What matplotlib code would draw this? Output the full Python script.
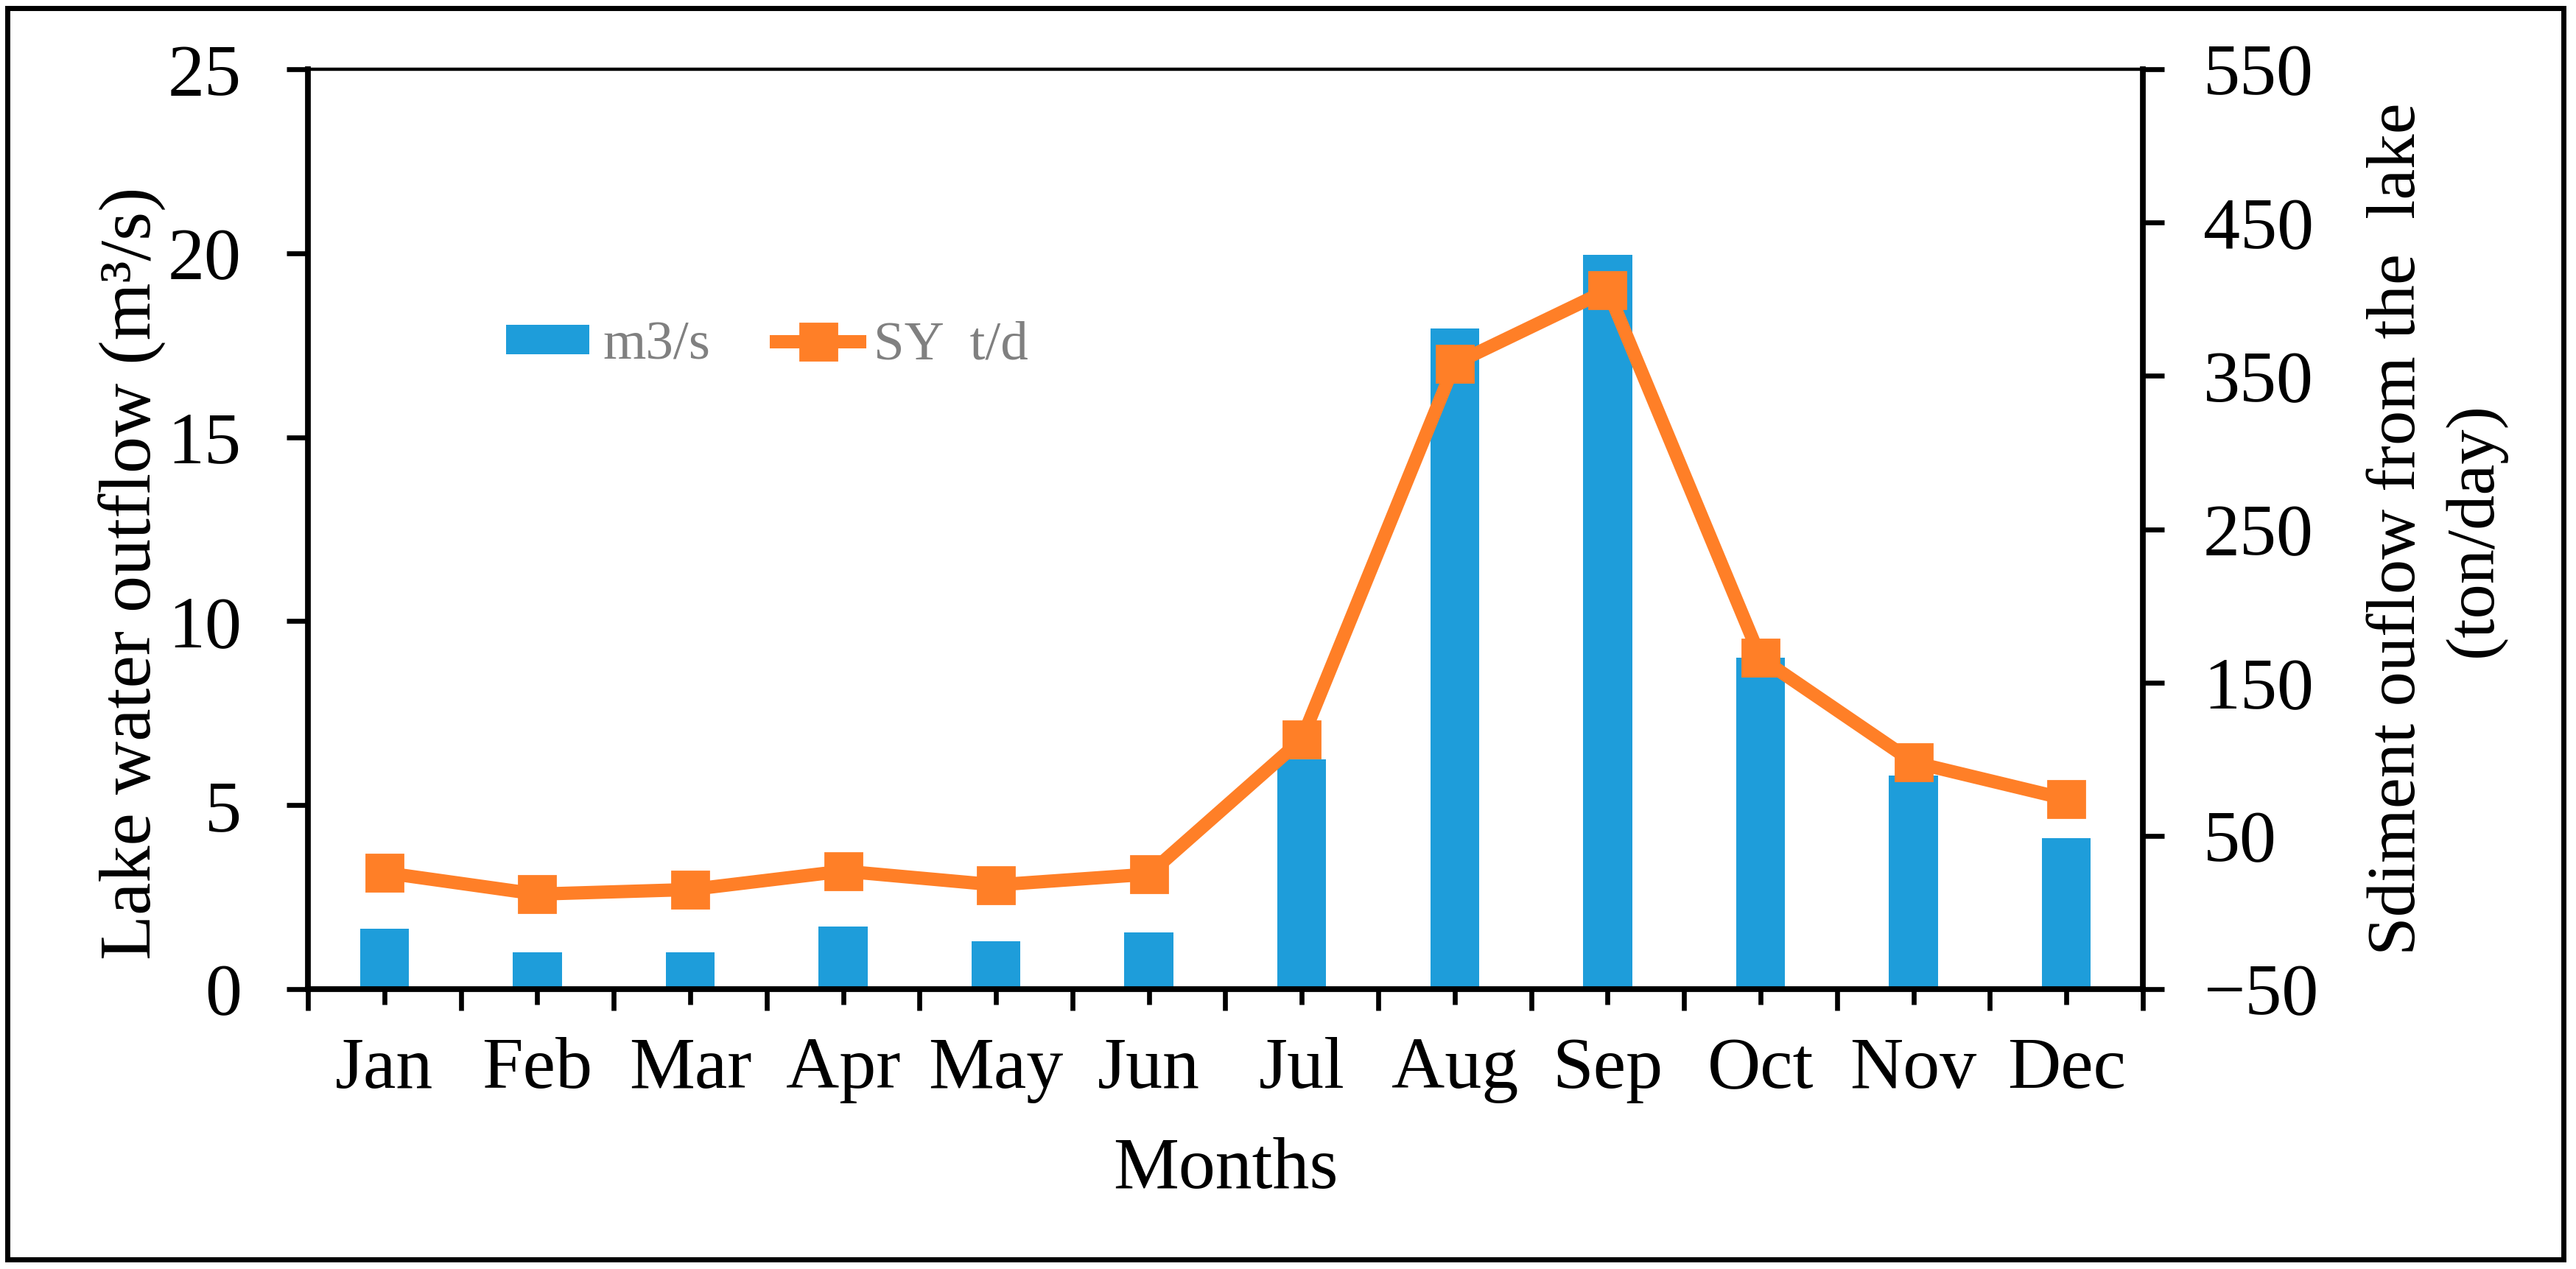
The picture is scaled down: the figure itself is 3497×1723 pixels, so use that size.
import numpy as np
import matplotlib
matplotlib.use("Agg")
import matplotlib.pyplot as plt
from matplotlib.patches import Rectangle
from matplotlib.ticker import FixedLocator

months = ["Jan", "Feb", "Mar", "Apr", "May", "Jun",
          "Jul", "Aug", "Sep", "Oct", "Nov", "Dec"]
flow = [1.65, 1.0, 1.0, 1.7, 1.3, 1.55, 6.25, 17.95, 19.95, 9.0, 5.8, 4.1]
sy = [26, 12, 15, 27, 18, 25, 113, 358, 406, 166, 98, 74]

left_ticks = [0, 5, 10, 15, 20, 25]
right_ticks = [-50, 50, 150, 250, 350, 450, 550]

blue = "#1E9DDA"
orange = "#FF7F27"

plt.rcParams["font.family"] = ["Liberation Serif", "DejaVu Serif"]

label_fs = 36
tick_fs = 36
legend_fs = 27

fig = plt.figure(figsize=(17.49, 8.615), dpi=200)
ax = fig.add_axes([0.1195, 0.2205, 0.8316 - 0.1195, 0.9454 - 0.2205])
ax2 = ax.twinx()

x = np.arange(len(months))

ax.bar(x, flow, width=0.32, color=blue, label="m3/s", zorder=2)
ax2.plot(x, sy, color=orange, linewidth=6.5, marker="s", markersize=18,
         label="SY  t/d", zorder=3)

ax.set_xlim(-0.5, len(months) - 0.5)
ax.set_ylim(0, 25)
ax2.set_ylim(-50, 550)

ax.set_yticks(left_ticks)
ax2.set_yticks(right_ticks)

ax.set_xticks(x)
ax.set_xticklabels(months)
ax.xaxis.set_minor_locator(FixedLocator(np.arange(-0.5, len(months), 1.0)))

ax.tick_params(axis="x", which="major", direction="out", length=7.5, width=2.4,
               labelsize=tick_fs, pad=16)
ax.tick_params(axis="x", which="minor", direction="out", length=10.5, width=2.4)
ax.tick_params(axis="y", direction="out", length=10.5, width=2.4,
               labelsize=tick_fs, pad=22)
ax2.tick_params(axis="y", direction="out", length=10.5, width=2.4,
                labelsize=tick_fs, pad=19)

for side in ["left", "bottom"]:
    ax.spines[side].set_linewidth(2.8)
ax.spines["top"].set_linewidth(1.6)
ax.spines["right"].set_visible(False)
for side in ["left", "bottom", "top"]:
    ax2.spines[side].set_visible(False)
ax2.spines["right"].set_linewidth(2.8)

ax.set_ylabel("Lake water outflow (m³/s)", fontsize=label_fs)
ax.yaxis.set_label_coords(-0.077, 0.452)
ax.set_xlabel("Months", fontsize=label_fs)
ax.xaxis.set_label_coords(0.5, -0.161)

ax2.set_ylabel("Sdiment ouflow from the  lake\n(ton/day)", fontsize=34,
               rotation=90, linespacing=1.3)
ax2.yaxis.set_label_coords(1.122, 0.5)

h1, l1 = ax.get_legend_handles_labels()
h2, l2 = ax2.get_legend_handles_labels()
leg = ax.legend(h1 + h2, l1 + l2, loc="center left",
                bbox_to_anchor=(0.108, 0.699), ncol=2, frameon=False,
                fontsize=legend_fs, borderpad=0, borderaxespad=0,
                handlelength=1.5, handleheight=0.45, handletextpad=0.25,
                columnspacing=1.2)
for t in leg.get_texts():
    t.set_color("#808080")
leg.set_zorder(5)

# outer frame round the whole picture
fig.patches.append(Rectangle((0.003, 0.0075), 0.9919, 0.986,
                             transform=fig.transFigure, fill=False,
                             edgecolor="black", linewidth=2.5))

fig.savefig("out.png", dpi=200)
